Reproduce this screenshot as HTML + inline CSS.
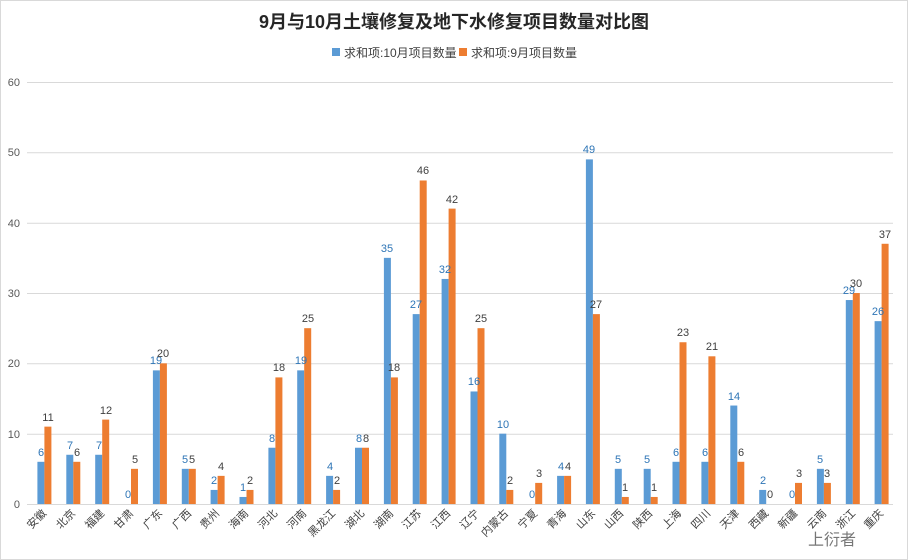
<!DOCTYPE html>
<html><head><meta charset="utf-8"><style>
body{margin:0;background:#fff}
svg{display:block;font-family:"Liberation Sans","Noto Sans CJK SC",sans-serif}
.b{fill:#5b9bd5}.o{fill:#ed7d31}
.lb{fill:#2e75b6;font-size:11px;text-anchor:middle}
.lo{fill:#404040;font-size:11px;text-anchor:middle}
.ax{fill:#595959;font-size:11px;text-anchor:end}
.ct{fill:#404040;font-size:11px;text-anchor:end}
</style></head><body>
<svg width="908" height="560" viewBox="0 0 908 560">
<rect x="0.5" y="0.5" width="907" height="559" fill="#fff" stroke="#d9d9d9"/>
<text x="454" y="28" text-anchor="middle" font-size="18" font-weight="bold" fill="#262626">9月与10月土壤修复及地下水修复项目数量对比图</text>
<rect x="332" y="48" width="8" height="8" fill="#5b9bd5"/><text x="344" y="57" font-size="12" fill="#404040">求和项:10月项目数量</text>
<rect x="459" y="48" width="8" height="8" fill="#ed7d31"/><text x="471" y="57" font-size="12" fill="#404040">求和项:9月项目数量</text>
<g stroke="#d9d9d9" stroke-width="1">
<line x1="27" x2="893" y1="82.5" y2="82.5"/><line x1="27" x2="893" y1="152.8" y2="152.8"/><line x1="27" x2="893" y1="223.2" y2="223.2"/><line x1="27" x2="893" y1="293.5" y2="293.5"/><line x1="27" x2="893" y1="363.8" y2="363.8"/><line x1="27" x2="893" y1="434.2" y2="434.2"/><line x1="27" x2="893" y1="504.5" y2="504.5"/>
</g>
<g class="ax"><text x="20" y="86">60</text><text x="20" y="156">50</text><text x="20" y="227">40</text><text x="20" y="297">30</text><text x="20" y="367">20</text><text x="20" y="438">10</text><text x="20" y="508">0</text></g>
<g transform="translate(3,0)">
<g transform="translate(0,504) scale(1,-7.033)">
<rect class="b" x="34.4" y="0" width="7" height="6"/><rect class="o" x="41.4" y="0" width="7" height="11"/>
<rect class="b" x="63.3" y="0" width="7" height="7"/><rect class="o" x="70.3" y="0" width="7" height="6"/>
<rect class="b" x="92.2" y="0" width="7" height="7"/><rect class="o" x="99.2" y="0" width="7" height="12"/>
<rect class="o" x="128" y="0" width="7" height="5"/>
<rect class="b" x="149.9" y="0" width="7" height="19"/><rect class="o" x="156.9" y="0" width="7" height="20"/>
<rect class="b" x="178.8" y="0" width="7" height="5"/><rect class="o" x="185.8" y="0" width="7" height="5"/>
<rect class="b" x="207.6" y="0" width="7" height="2"/><rect class="o" x="214.6" y="0" width="7" height="4"/>
<rect class="b" x="236.5" y="0" width="7" height="1"/><rect class="o" x="243.5" y="0" width="7" height="2"/>
<rect class="b" x="265.4" y="0" width="7" height="8"/><rect class="o" x="272.4" y="0" width="7" height="18"/>
<rect class="b" x="294.2" y="0" width="7" height="19"/><rect class="o" x="301.2" y="0" width="7" height="25"/>
<rect class="b" x="323.1" y="0" width="7" height="4"/><rect class="o" x="330.1" y="0" width="7" height="2"/>
<rect class="b" x="352" y="0" width="7" height="8"/><rect class="o" x="359" y="0" width="7" height="8"/>
<rect class="b" x="380.9" y="0" width="7" height="35"/><rect class="o" x="387.9" y="0" width="7" height="18"/>
<rect class="b" x="409.7" y="0" width="7" height="27"/><rect class="o" x="416.7" y="0" width="7" height="46"/>
<rect class="b" x="438.6" y="0" width="7" height="32"/><rect class="o" x="445.6" y="0" width="7" height="42"/>
<rect class="b" x="467.5" y="0" width="7" height="16"/><rect class="o" x="474.5" y="0" width="7" height="25"/>
<rect class="b" x="496.3" y="0" width="7" height="10"/><rect class="o" x="503.3" y="0" width="7" height="2"/>
<rect class="o" x="532.2" y="0" width="7" height="3"/>
<rect class="b" x="554.1" y="0" width="7" height="4"/><rect class="o" x="561.1" y="0" width="7" height="4"/>
<rect class="b" x="582.9" y="0" width="7" height="49"/><rect class="o" x="589.9" y="0" width="7" height="27"/>
<rect class="b" x="611.8" y="0" width="7" height="5"/><rect class="o" x="618.8" y="0" width="7" height="1"/>
<rect class="b" x="640.7" y="0" width="7" height="5"/><rect class="o" x="647.7" y="0" width="7" height="1"/>
<rect class="b" x="669.5" y="0" width="7" height="6"/><rect class="o" x="676.5" y="0" width="7" height="23"/>
<rect class="b" x="698.4" y="0" width="7" height="6"/><rect class="o" x="705.4" y="0" width="7" height="21"/>
<rect class="b" x="727.3" y="0" width="7" height="14"/><rect class="o" x="734.3" y="0" width="7" height="6"/>
<rect class="b" x="756.2" y="0" width="7" height="2"/>
<rect class="o" x="792" y="0" width="7" height="3"/>
<rect class="b" x="813.9" y="0" width="7" height="5"/><rect class="o" x="820.9" y="0" width="7" height="3"/>
<rect class="b" x="842.8" y="0" width="7" height="29"/><rect class="o" x="849.8" y="0" width="7" height="30"/>
<rect class="b" x="871.6" y="0" width="7" height="26"/><rect class="o" x="878.6" y="0" width="7" height="37"/>
</g>
<g class="lb">
<text x="38" y="456">6</text><text x="67" y="449">7</text><text x="96" y="449">7</text><text x="125" y="498">0</text><text x="153" y="364">19</text><text x="182" y="463">5</text><text x="211" y="484">2</text><text x="240" y="491">1</text><text x="269" y="442">8</text><text x="298" y="364">19</text><text x="327" y="470">4</text><text x="356" y="442">8</text><text x="384" y="252">35</text><text x="413" y="308">27</text><text x="442" y="273">32</text><text x="471" y="385">16</text><text x="500" y="428">10</text><text x="529" y="498">0</text><text x="558" y="470">4</text><text x="586" y="153">49</text><text x="615" y="463">5</text><text x="644" y="463">5</text><text x="673" y="456">6</text><text x="702" y="456">6</text><text x="731" y="400">14</text><text x="760" y="484">2</text><text x="789" y="498">0</text><text x="817" y="463">5</text><text x="846" y="294">29</text><text x="875" y="315">26</text>
</g>
<g class="lo">
<text x="45" y="421">11</text><text x="74" y="456">6</text><text x="103" y="414">12</text><text x="132" y="463">5</text><text x="160" y="357">20</text><text x="189" y="463">5</text><text x="218" y="470">4</text><text x="247" y="484">2</text><text x="276" y="371">18</text><text x="305" y="322">25</text><text x="334" y="484">2</text><text x="363" y="442">8</text><text x="391" y="371">18</text><text x="420" y="174">46</text><text x="449" y="203">42</text><text x="478" y="322">25</text><text x="507" y="484">2</text><text x="536" y="477">3</text><text x="565" y="470">4</text><text x="593" y="308">27</text><text x="622" y="491">1</text><text x="651" y="491">1</text><text x="680" y="336">23</text><text x="709" y="350">21</text><text x="738" y="456">6</text><text x="767" y="498">0</text><text x="796" y="477">3</text><text x="824" y="477">3</text><text x="853" y="287">30</text><text x="882" y="238">37</text>
</g>
</g>
<g class="ct" transform="translate(2,0)">
<text transform="translate(45,514) rotate(-45)">安徽</text>
<text transform="translate(74,514) rotate(-45)">北京</text>
<text transform="translate(103,514) rotate(-45)">福建</text>
<text transform="translate(132,514) rotate(-45)">甘肃</text>
<text transform="translate(161,514) rotate(-45)">广东</text>
<text transform="translate(190,514) rotate(-45)">广西</text>
<text transform="translate(218,514) rotate(-45)">贵州</text>
<text transform="translate(247,514) rotate(-45)">海南</text>
<text transform="translate(276,514) rotate(-45)">河北</text>
<text transform="translate(305,514) rotate(-45)">河南</text>
<text transform="translate(334,514) rotate(-45)">黑龙江</text>
<text transform="translate(363,514) rotate(-45)">湖北</text>
<text transform="translate(392,514) rotate(-45)">湖南</text>
<text transform="translate(420,514) rotate(-45)">江苏</text>
<text transform="translate(449,514) rotate(-45)">江西</text>
<text transform="translate(478,514) rotate(-45)">辽宁</text>
<text transform="translate(507,514) rotate(-45)">内蒙古</text>
<text transform="translate(536,514) rotate(-45)">宁夏</text>
<text transform="translate(565,514) rotate(-45)">青海</text>
<text transform="translate(594,514) rotate(-45)">山东</text>
<text transform="translate(622,514) rotate(-45)">山西</text>
<text transform="translate(651,514) rotate(-45)">陕西</text>
<text transform="translate(680,514) rotate(-45)">上海</text>
<text transform="translate(709,514) rotate(-45)">四川</text>
<text transform="translate(738,514) rotate(-45)">天津</text>
<text transform="translate(767,514) rotate(-45)">西藏</text>
<text transform="translate(796,514) rotate(-45)">新疆</text>
<text transform="translate(825,514) rotate(-45)">云南</text>
<text transform="translate(854,514) rotate(-45)">浙江</text>
<text transform="translate(882,514) rotate(-45)">重庆</text>
</g>
<text x="808" y="545" font-size="16" fill="#555" opacity="0.8">上衍者</text>
</svg>
</body></html>
